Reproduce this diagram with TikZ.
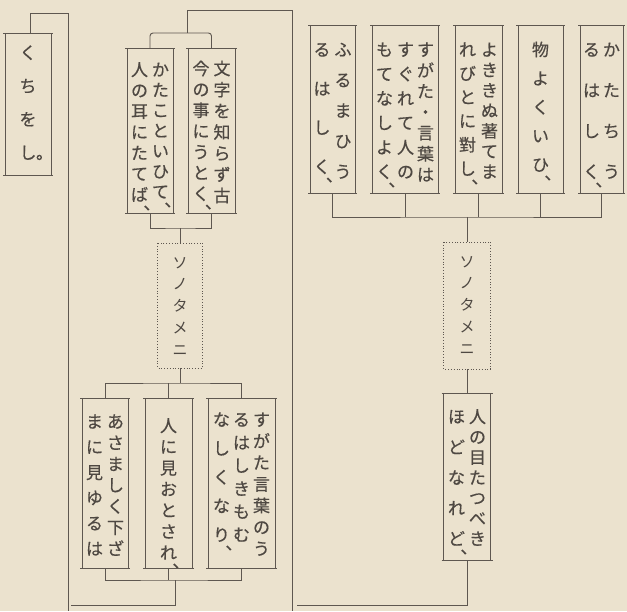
\documentclass[tikz,border=0pt]{standalone}
\usepackage{fontspec}
\newfontfamily\jp[FakeBold=0.5]{Noto Sans CJK JP}
\newfontfamily\jpk{Noto Sans CJK JP}
\definecolor{paper}{RGB}{235,226,206}
\definecolor{ink}{RGB}{78,72,66}
\definecolor{lineclr}{RGB}{94,87,80}
% comma / full stop placed as in vertical setting (halfwidth forms)
\newcommand\vcm{\rlap{\smash{\kern-.24em\raisebox{-.5em}{､}}}}
\newcommand\vmaru{\rlap{\smash{\kern-.02em\raisebox{0em}{｡}}}}
% one vertical column, characters spread over #1
\newcommand\vcol[2]{\vtop to #1{\offinterlineskip
  \foreach \c [count=\i] in {#2}{\ifnum\i>1 \vfill\fi
    \hbox to 1em{\hss\vrule height .88em depth .12em width 0pt\relax\c\hss}}}}
% panel: width, height, top padding, columns
\newcommand\vpanel[4]{\vbox to #2{\offinterlineskip\vskip#3\relax\hbox to #1{\hss#4\hss}\vss}}
\newcommand\frameit[1]{\draw[wire] ([xshift=-2pt]#1.north west) -- ([xshift=2pt]#1.north east)
  ([xshift=-2pt]#1.south west) -- ([xshift=2pt]#1.south east)
  (#1.north west) -- (#1.south west) (#1.north east) -- (#1.south east);}
\tikzset{
  panel/.style={inner sep=0pt, outer sep=0pt, text=ink, font=\jp\fontsize{17pt}{17pt}\selectfont},
  kana/.style={panel, font=\jpk\fontsize{15pt}{15pt}\selectfont},
  wire/.style={draw=lineclr, line width=0.95pt},
  dotframe/.style={draw=lineclr, line width=1pt, dash pattern=on 1pt off 1.8pt},
}
\begin{document}
\begin{tikzpicture}[x=1pt,y=-1pt]
\fill[paper] (0,0) rectangle (627,611);
\useasboundingbox (0,0) rectangle (627,611);

% ---------- left ----------
\node[panel] (L) at (28,104) {\vpanel{46pt}{142pt}{11pt}{\vcol{115pt}{く,ち,を,し\vmaru}}};
\frameit{L}
\coordinate (Ltop) at (68,13);
\coordinate (Lbot) at (68,611);
\draw[wire] ([xshift=2pt]L.north) |- (Ltop) -- (Lbot);

% ---------- middle ----------
\node[panel] (M1) at (150,130.5) {\vpanel{46pt}{165pt}{13pt}{\vcol{140pt}{人,の,耳,に,た,て,ば\vcm}\kern4pt\vcol{137pt}{か,た,こ,と,い,ひ,て\vcm}}};
\node[panel] (M2) at (211.5,130.5) {\vpanel{47pt}{165pt}{12pt}{\vcol{140pt}{今,の,事,に,う,と,く\vcm}\kern4pt\vcol{142pt}{文,字,を,知,ら,ず,古}}};
\frameit{M1}\frameit{M2}
\coordinate (Msub) at (187,33);
\coordinate (Mtop) at (292,10);
\coordinate (Mbot) at (292,611);
\draw[wire, rounded corners=3pt] (M1.north) |- (Msub) -| (M2.north);
\draw[wire] (Msub) |- (Mtop) -- (Mbot);

\node[kana] (D1) at (180,305.5) {\vpanel{45pt}{125pt}{12pt}{\vcol{100pt}{ソ,ノ,タ,メ,ニ}}};
\draw[dotframe] (D1.north west) rectangle (D1.south east);
\coordinate (Mj) at (180,228);
\draw[wire] (M1.south) |- (Mj) -| (M2.south);
\draw[wire] (Mj) -- (D1.north);

\node[panel] (A) at (105,483) {\vpanel{46pt}{170pt}{15pt}{\vcol{142pt}{ま,に,見,ゆ,る,は}\kern4pt\vcol{142pt}{あ,さ,ま,し,く,下,ざ}}};
\node[panel] (B) at (168.5,483) {\vpanel{47pt}{170pt}{19pt}{\vcol{142pt}{人,に,見,お,と,さ,れ\vcm}}};
\node[panel] (C) at (241.5,483) {\vpanel{67pt}{170pt}{13pt}{\vcol{130pt}{な,し,く,な,り\vcm}\kern3pt\vcol{130pt}{る,は,し,き,も,む}\kern3pt\vcol{144pt}{す,が,た,言,葉,の,う}}};
\frameit{A}\frameit{B}\frameit{C}
\coordinate (Dj) at (180,383);
\draw[wire] (D1.south) -- (Dj);
\draw[wire] (A.north) |- (Dj) -| (C.north);
\draw[wire] (B.north) -- (B.north |- Dj);
\coordinate (Bj) at (175,580);
\draw[wire] (A.south) |- (Bj) -| (C.south);
\draw[wire] (B.south) -- (B.south |- Bj);
\coordinate (Lfoot) at (71,605);
\draw[wire] (Bj) |- (Lfoot);

% ---------- right ----------
\node[panel] (R1) at (332.5,109) {\vpanel{45pt}{168pt}{16pt}{\vcol{132pt}{る,は,し,く\vcm}\kern4pt\vcol{137pt}{ふ,る,ま,ひ,う}}};
\node[panel] (R2) at (405,109) {\vpanel{66pt}{168pt}{16pt}{\vcol{137pt}{も,て,な,し,よ,く\vcm}\kern4pt\vcol{137pt}{す,ぐ,れ,て,人,の}\kern3pt\vcol{140pt}{す,が,た,・,言,葉,は}}};
\node[panel] (R3) at (478.5,109) {\vpanel{47pt}{168pt}{16pt}{\vcol{134pt}{れ,び,と,に,對,し\vcm}\kern5pt\vcol{137pt}{よ,き,き,ぬ,著,て,ま}}};
\node[panel] (R4) at (540.5,109) {\vpanel{45pt}{168pt}{16pt}{\vcol{130pt}{物,よ,く,い,ひ\vcm}}};
\node[panel] (R5) at (601.5,109) {\vpanel{43pt}{168pt}{16pt}{\vcol{137pt}{る,は,し,く\vcm}\kern3pt\vcol{137pt}{か,た,ち,う}}};
\frameit{R1}\frameit{R2}\frameit{R3}\frameit{R4}\frameit{R5}
\coordinate (Rj) at (467,217);
\draw[wire] (R1.south) |- (Rj) -| (R5.south);
\foreach \n in {R2,R3,R4}{\draw[wire] (\n.south) -- (\n.south |- Rj);}

\node[kana] (D2) at (467,305.5) {\vpanel{47pt}{127pt}{12pt}{\vcol{100pt}{ソ,ノ,タ,メ,ニ}}};
\draw[dotframe] (D2.north west) rectangle (D2.south east);
\draw[wire] (Rj) -- (D2.north);

\node[panel] (E) at (467,476.5) {\vpanel{47pt}{167pt}{15pt}{\vcol{137pt}{ほ,ど,な,れ,ど\vcm}\kern4pt\vcol{137pt}{人,の,目,た,つ,べ,き}}};
\frameit{E}
\draw[wire] (D2.south) -- (E.north);
\coordinate (Rfoot) at (297,605);
\draw[wire] (E.south) |- (Rfoot);
\end{tikzpicture}
\end{document}
